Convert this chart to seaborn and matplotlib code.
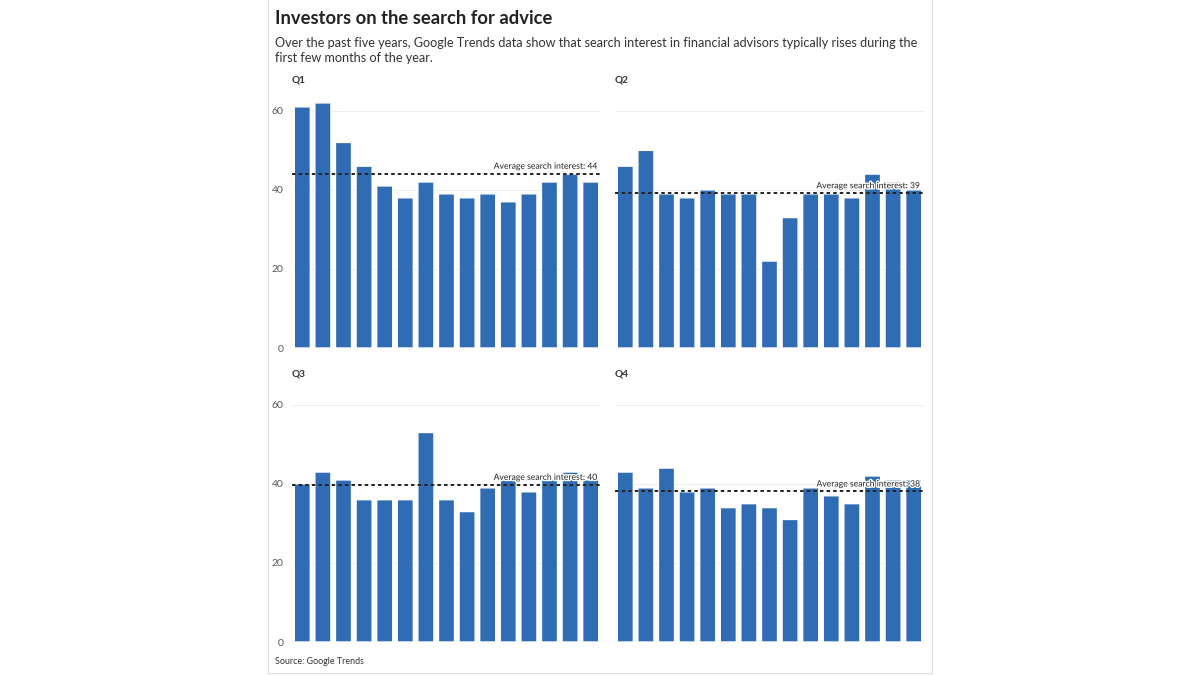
import numpy as np
import pandas as pd

import matplotlib.pyplot as plt
import matplotlib.patheffects as pe
import seaborn as sns

# Search interest by week, one list per quarter
q1_values = [61, 62, 52, 46, 41, 38, 42, 39, 38, 39, 37, 39, 42, 44, 42]
q2_values = [46, 50, 39, 38, 40, 39, 39, 22, 33, 39, 39, 38, 44, 42, 40]
q3_values = [40, 43, 41, 36, 36, 36, 53, 36, 33, 39, 41, 38, 41, 43, 41]
q4_values = [43, 39, 44, 38, 39, 34, 35, 34, 31, 39, 37, 35, 42, 41, 41]

quarters = ["Q1", "Q2", "Q3", "Q4"]
y_ticks = [0, 20, 40, 60]

title = "Investors on the search for advice"
subtitle = ("Over the past five years, Google Trends data show that search interest in financial advisors typically rises during the\n"
            "first few months of the year.")
source = "Source: Google Trends"

bar_color = "#2f6cb3"

sns.set_style("white")
plt.rcParams["font.family"] = ["Lato", "DejaVu Sans"]

W, H = 1200, 675
fig = plt.figure(figsize=(12, 6.75), dpi=100)
fig.patch.set_facecolor("white")


def px_axes(left, top, right, bottom):
    return fig.add_axes([left / W, 1 - bottom / H, (right - left) / W, (bottom - top) / H])


# card border
for x in (268, 932):
    fig.add_artist(plt.Line2D([x / W, x / W], [1 - 673 / H, 1], color="#e2e2e2", lw=1))
fig.add_artist(plt.Line2D([268 / W, 932 / W], [1 - 673 / H, 1 - 673 / H], color="#e2e2e2", lw=1))

fig.text(275 / W, 1 - 19 / H, title, fontsize=13.2, fontweight="bold", color="#222222", va="center")
fig.text(275 / W, 1 - 50.5 / H, subtitle, fontsize=9.1, color="#333333", va="center", linespacing=1.3)
fig.text(275 / W, 1 - 662 / H, source, fontsize=6.4, color="#333333", va="center")

panels = {
    "Q1": (q1_values, (292, 95, 601, 348), True),
    "Q2": (q2_values, (615, 95, 924, 348), False),
    "Q3": (q3_values, (292, 389, 601, 642), True),
    "Q4": (q4_values, (615, 389, 924, 642), False),
}

for q in quarters:
    values, box, show_labels = panels[q]
    ax = px_axes(*box)
    df = pd.DataFrame({"week": range(len(values)), "interest": values})

    for t in y_ticks:
        ax.axhline(t, color="#eeeeee", lw=0.8, zorder=0)

    sns.barplot(data=df, x="week", y="interest", color=bar_color,
                width=0.78, saturation=1, ax=ax, zorder=2)
    for p in ax.patches:
        p.set_snap(False)

    avg = np.mean(values)
    ax.axhline(avg, color="#222222", lw=1.4, ls=(0, (1.8, 1.6)), zorder=3)
    ax.annotate(f"Average search interest: {round(avg)}", xy=(1, avg),
                xycoords=("axes fraction", "data"), xytext=(-2, 2),
                textcoords="offset points", ha="right", va="bottom",
                fontsize=6.2, color="#222222", zorder=4,
                path_effects=[pe.withStroke(linewidth=2, foreground="white")])

    ax.set_xlim(-0.5, len(values) - 0.5)
    ax.set_ylim(0, 64)
    ax.set_yticks(y_ticks)
    ax.set_xticks([])
    ax.set_xlabel("")
    ax.set_ylabel("")
    if show_labels:
        ax.set_yticklabels([str(t) for t in y_ticks], fontsize=7.5, color="#555555")
    else:
        ax.set_yticklabels([])
    ax.tick_params(axis="y", length=0, pad=6)
    sns.despine(ax=ax, left=True, bottom=True)

    ax.text(0, 1 + 15 / (box[3] - box[1]), q, transform=ax.transAxes,
            fontsize=7.3, fontweight="bold", color="#333333", va="center")

fig.savefig("out.png", dpi=100, facecolor="white")
